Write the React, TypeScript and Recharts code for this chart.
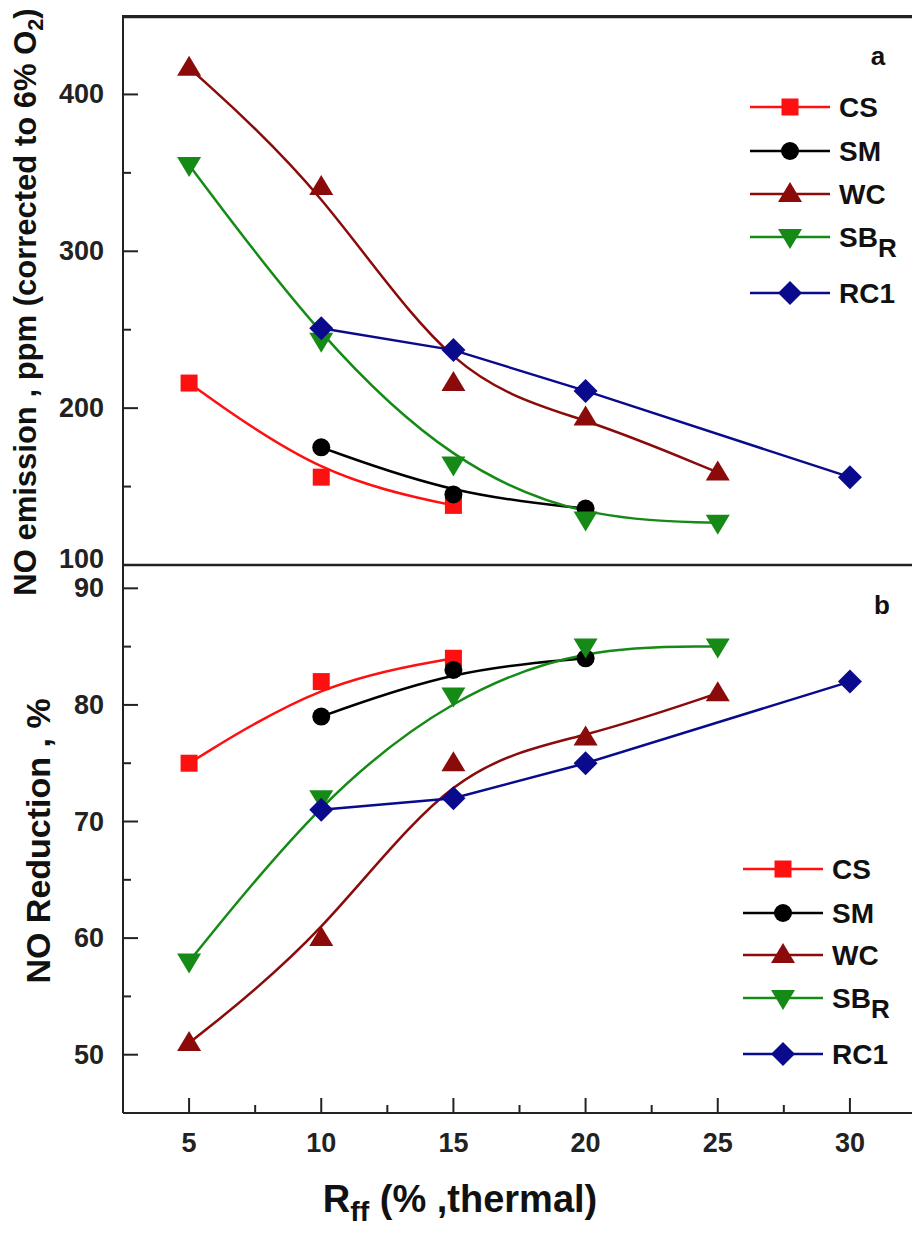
import React from "react";
import { LineChart, Line, XAxis, YAxis, Legend, ReferenceLine } from "recharts";

const FONT = '"Liberation Sans", Arial, Helvetica, sans-serif';
const AXIS = "#222";

// x positions (R_ff, % thermal) and values
const csX = [5, 10, 15];
const csEmission = [216, 156, 138];
const csReduction = [75, 82, 84];

const smX = [10, 15, 20];
const smEmission = [175, 145, 136];
const smReduction = [79, 83, 84];

const wcX = [5, 10, 15, 20, 25];
const wcEmission = [417, 341, 216, 194, 159];
const wcReduction = [51, 60, 75, 77.2, 81];

const sbX = [5, 10, 15, 20, 25];
const sbEmission = [355, 243, 164, 129, 127];
const sbReduction = [58, 72, 80.8, 85, 85];

const rcX = [10, 15, 20, 30];
const rcEmission = [251, 237, 211, 156];
const rcReduction = [71, 72, 75, 82];

const xTicks = [5, 7.5, 10, 12.5, 15, 17.5, 20, 22.5, 25, 27.5, 30];
const xMajor = [5, 10, 15, 20, 25, 30];
const topTicks = [100, 150, 200, 250, 300, 350, 400];
const topMajor = [100, 200, 300, 400];
const botTicks = [50, 55, 60, 65, 70, 75, 80, 85, 90];
const botMajor = [50, 60, 70, 80, 90];
const X_DOMAIN = [2.5, 32.5];
const TOP_MAX = 450;

type Shape = "square" | "circle" | "up" | "down" | "diamond";

const SERIES = [
  { name: "CS", color: "#ff1010", shape: "square" as Shape, curve: "basis", xs: csX, em: csEmission, red: csReduction },
  { name: "SM", color: "#000000", shape: "circle" as Shape, curve: "basis", xs: smX, em: smEmission, red: smReduction },
  { name: "WC", color: "#8b0a0a", shape: "up" as Shape, curve: "basis", xs: wcX, em: wcEmission, red: wcReduction },
  { name: "SB", sub: "R", color: "#168a16", shape: "down" as Shape, curve: "basis", xs: sbX, em: sbEmission, red: sbReduction },
  { name: "RC1", color: "#0a0a8c", shape: "diamond" as Shape, curve: "linear", xs: rcX, em: rcEmission, red: rcReduction },
];

const toPoints = (xs: number[], ys: number[]) => xs.map((x, i) => ({ x, y: ys[i] }));

function Marker({ cx, cy, shape, color }: { cx: number; cy: number; shape: Shape; color: string }) {
  if (cx == null || cy == null) return null;
  switch (shape) {
    case "square":
      return <rect x={cx - 8.5} y={cy - 8.5} width={17} height={17} fill={color} />;
    case "circle":
      return <circle cx={cx} cy={cy} r={9} fill={color} />;
    case "up":
      return <polygon points={`${cx},${cy - 12} ${cx + 12},${cy + 8} ${cx - 12},${cy + 8}`} fill={color} />;
    case "down":
      return <polygon points={`${cx - 12},${cy - 8} ${cx + 12},${cy - 8} ${cx},${cy + 12}`} fill={color} />;
    default:
      return <polygon points={`${cx},${cy - 12} ${cx + 12},${cy} ${cx},${cy + 12} ${cx - 12},${cy}`} fill={color} />;
  }
}

// inward ticks on the left axis, labels only on major values
const YTick = (props: any) => {
  const { x, y, payload, majors, shiftTop } = props;
  const major = majors.includes(payload.value);
  const dy = shiftTop && payload.value === shiftTop ? -6 : 0;
  return (
    <g>
      <line x1={x} x2={x + (major ? 15 : 8)} y1={y} y2={y} stroke={AXIS} strokeWidth={2} />
      {major && (
        <text x={x - 19} y={y + dy} textAnchor="end" dominantBaseline="central"
          fontFamily={FONT} fontWeight="bold" fontSize={27} fill={AXIS}>
          {payload.value}
        </text>
      )}
    </g>
  );
};

const XTick = (props: any) => {
  const { x, y, payload } = props;
  const major = xMajor.includes(payload.value);
  return (
    <g>
      <line x1={x} x2={x} y1={y} y2={y - (major ? 15 : 8)} stroke={AXIS} strokeWidth={2} />
      {major && (
        <text x={x} y={y + 30} textAnchor="middle" dominantBaseline="central"
          fontFamily={FONT} fontWeight="bold" fontSize={27} fill={AXIS}>
          {payload.value}
        </text>
      )}
    </g>
  );
};

function LegendBox({ rows }: { rows: number[] }) {
  return (
    <svg width={190} height={240} style={{ display: "block" }}>
      {SERIES.map((s, i) => (
        <g key={s.name}>
          <line x1={10} x2={90} y1={rows[i]} y2={rows[i]} stroke={s.color} strokeWidth={2.5} />
          <Marker cx={50} cy={rows[i]} shape={s.shape} color={s.color} />
          <text x={99} y={rows[i]} dominantBaseline="central" fontFamily={FONT}
            fontWeight="bold" fontSize={28} fill="#111">
            {s.name}
            {s.sub && (
              <tspan dy={11} fontSize={26}>{s.sub}</tspan>
            )}
          </text>
        </g>
      ))}
    </svg>
  );
}

const renderLines = (field: "em" | "red") =>
  SERIES.map((s) => (
    <Line
      key={s.name}
      data={toPoints(s.xs, s[field])}
      dataKey="y"
      name={s.name}
      type={s.curve as any}
      stroke={s.color}
      strokeWidth={2.5}
      dot={(p: any) => <Marker key={`${s.name}-${p.index}`} cx={p.cx} cy={p.cy} shape={s.shape} color={s.color} />}
      activeDot={false}
      isAnimationActive={false}
    />
  ));

const titleStyle: React.CSSProperties = {
  position: "absolute",
  fontFamily: FONT,
  fontWeight: "bold",
  color: "#111",
  whiteSpace: "nowrap",
  lineHeight: 1,
};

export default function App() {
  return (
    <div style={{ position: "absolute", left: 0, top: 0, width: 912, height: 1234, overflow: "hidden", background: "#fff" }}>
      <div style={{ position: "absolute", left: 0, top: 0 }}>
        <LineChart width={930} height={585} margin={{ top: 16, right: 14, left: 0, bottom: 19 }}>
          <XAxis dataKey="x" type="number" domain={X_DOMAIN} height={1} tick={false}
            tickLine={false} axisLine={{ stroke: AXIS, strokeWidth: 2.5 }} allowDataOverflow />
          <YAxis type="number" domain={[100, TOP_MAX]} ticks={topTicks} interval={0} width={123} tickSize={0}
            tickMargin={0} tickLine={false} axisLine={{ stroke: AXIS, strokeWidth: 2 }} allowDataOverflow
            tick={(p: any) => <YTick {...p} majors={topMajor} shiftTop={100} />} />
          {/* top frame edge of panel a, just inside the domain */}
          <ReferenceLine y={TOP_MAX - 0.5} stroke={AXIS} strokeWidth={3} ifOverflow="extendDomain" />
          {renderLines("em")}
          <Legend layout="vertical" align="center" verticalAlign="middle"
            wrapperStyle={{ position: "absolute", left: 740, top: 80, width: 190 }}
            content={() => <LegendBox rows={[27, 71, 114, 157, 213]} />} />
        </LineChart>
      </div>

      <div style={{ position: "absolute", left: 0, top: 565 }}>
        <LineChart width={930} height={669} margin={{ top: 0, right: 14, left: 0, bottom: 81 }}>
          <XAxis dataKey="x" type="number" domain={X_DOMAIN} ticks={xTicks} interval={0} height={40}
            tickSize={0} tickMargin={0} tickLine={false} axisLine={{ stroke: AXIS, strokeWidth: 2 }}
            allowDataOverflow tick={(p: any) => <XTick {...p} />} />
          <YAxis type="number" domain={[45, 92]} ticks={botTicks} interval={0} width={123} tickSize={0}
            tickMargin={0} tickLine={false} axisLine={{ stroke: AXIS, strokeWidth: 2 }} allowDataOverflow
            tick={(p: any) => <YTick {...p} majors={botMajor} />} />
          {renderLines("red")}
          <Legend layout="vertical" align="center" verticalAlign="middle"
            wrapperStyle={{ position: "absolute", left: 733, top: 280, width: 190 }}
            content={() => <LegendBox rows={[24, 68, 110, 153, 209]} />} />
        </LineChart>
      </div>

      {/* top edge of the panel a frame, layered above the chart */}
      <div style={{ position: "absolute", left: 122, top: 15, width: 800, height: 3, background: AXIS, zIndex: 5 }} />

      {/* panel letters */}
      <div style={{ ...titleStyle, left: 878, top: 56, fontSize: 26, transform: "translate(-50%,-50%)" }}>a</div>
      <div style={{ ...titleStyle, left: 882, top: 605, fontSize: 26, transform: "translate(-50%,-50%)" }}>b</div>

      {/* axis titles */}
      <div style={{ ...titleStyle, left: 28, top: 302, fontSize: 31, transform: "translate(-50%,-50%) rotate(-90deg)" }}>
        NO emission , ppm (corrected to 6% O<sub style={{ fontSize: "0.7em" }}>2</sub>)
      </div>
      <div style={{ ...titleStyle, left: 38, top: 841, fontSize: 34, transform: "translate(-50%,-50%) rotate(-90deg)" }}>
        NO Reduction , %
      </div>
      <div style={{ ...titleStyle, left: 460, top: 1203, fontSize: 38, transform: "translate(-50%,-50%)" }}>
        R<sub style={{ fontSize: "0.75em" }}>ff</sub> (% ,thermal)
      </div>
    </div>
  );
}
